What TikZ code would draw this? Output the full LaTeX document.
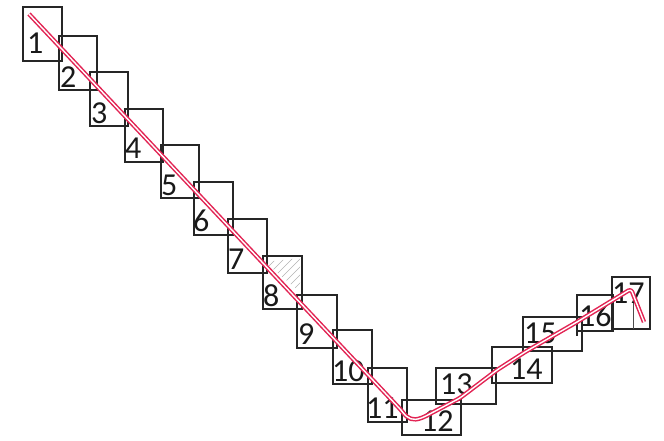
\documentclass[tikz,border=0pt]{standalone}
\usepackage{fontspec}
\setmainfont{Carlito}
\begin{document}
\begin{tikzpicture}[x=1pt,y=-1pt,
  cell/.style={draw=black!85, line width=1.3pt, anchor=north west, inner sep=0pt, outer sep=0pt},
  num/.style={anchor=base west, inner sep=0pt, font=\fontsize{32}{34}\selectfont, text=black!90},
  route/.style={draw={rgb,255:red,226;green,36;blue,84}, line width=1.5pt, double=white, double distance=1.4pt, line join=round, rounded corners=3pt}]
\useasboundingbox (0,0) rectangle (664,440);
% boxes
\node[cell, minimum width=39pt, minimum height=54pt] (b1) at (23,7) {};
\node[cell, minimum width=38pt, minimum height=54pt] (b2) at (59,36) {};
\node[cell, minimum width=38pt, minimum height=54pt] (b3) at (90,72) {};
\node[cell, minimum width=38pt, minimum height=53pt] (b4) at (125,109) {};
\node[cell, minimum width=38pt, minimum height=53pt] (b5) at (161,145) {};
\node[cell, minimum width=39pt, minimum height=53pt] (b6) at (194,182) {};
\node[cell, minimum width=39pt, minimum height=54pt] (b7) at (228,219) {};
\node[cell, minimum width=39pt, minimum height=53pt] (b8) at (263,256) {};
\node[cell, minimum width=40pt, minimum height=53pt] (b9) at (297,295) {};
\node[cell, minimum width=39pt, minimum height=54pt] (b10) at (333,330) {};
\node[cell, minimum width=39pt, minimum height=54pt] (b11) at (368,368) {};
\node[cell, minimum width=59pt, minimum height=35pt] (b12) at (402,400) {};
\node[cell, minimum width=60pt, minimum height=36pt] (b13) at (436,368) {};
\node[cell, minimum width=60pt, minimum height=36pt] (b14) at (492,347) {};
\node[cell, minimum width=59pt, minimum height=34pt] (b15) at (523,317) {};
\node[cell, minimum width=36pt, minimum height=36pt] (b16) at (577,295) {};
\node[cell, minimum width=38pt, minimum height=52pt] (b17) at (612,277) {};
% extra lines
\draw[black!85, line width=1.1pt] (b16.south west) -- ++(0,5);
\draw[black!70, line width=0.9pt] (633,298) -- (633,329);
% hatching in box 8
\begin{scope}
\clip (265,262) -- (300,258) -- (300,292) -- cycle;
\foreach \d in {0,8,...,70} {
  \draw[gray!60, line width=0.6pt] (263+\d,256) -- ++(-45,45);
}
\end{scope}
% labels
\node[num] (n1) at (27,53) {1};
\node[num] (n2) at (60,87) {2};
\node[num] (n3) at (91,123) {3};
\node[num] (n4) at (125,158) {4};
\node[num] (n5) at (161,195) {5};
\node[num] (n6) at (193,231) {6};
\node[num] (n7) at (228,269) {7};
\node[num] (n8) at (263,306) {8};
\node[num] (n9) at (298,344) {9};
\node[num] (n10) at (332,381) {10};
\node[num] (n11) at (366,418) {11};
\node[num] (n12) at (421,431) {12};
\node[num] (n13) at (440,394) {13};
\node[num] (n14) at (510,379) {14};
\node[num] (n15) at (524,343) {15};
\node[num] (n16) at (579,326) {16};
\node[num] (n17) at (612,303) {17};
% route
\coordinate (p0) at (29,14);
\coordinate (p1) at (401,410);
\coordinate (p2) at (424,417);
\coordinate (p3) at (631,289);
\coordinate (p4) at (644,322);
\draw[route] (p0) -- (p1) .. controls (408,419) and (413,421) .. (p2) -- (460,398) -- (497,370) -- (525,352) -- (577,322) -- (p3) -- (p4);
\end{tikzpicture}
\end{document}
